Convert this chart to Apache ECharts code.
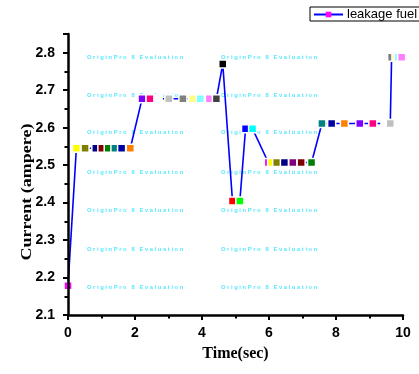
<!DOCTYPE html>
<html>
<head>
<meta charset="utf-8">
<script src="https://cdn.jsdelivr.net/npm/echarts@6/dist/echarts.min.js"></script>
<style>html,body{margin:0;padding:0;background:#fff;}#c{width:419px;height:374px;}</style>
</head>
<body>
<div id="c"></div>
<script>
// Data
var times = [0, 0.25, 0.51, 0.83, 1.01, 1.20, 1.40, 1.60, 1.86,
  2.21, 2.45, 2.69, 3.01, 3.43, 3.72, 3.95, 4.22, 4.43,
  4.62, 4.91, 5.13, 5.30, 5.51,
  5.98, 6.08, 6.23, 6.46, 6.71, 6.96, 7.27,
  7.58, 7.87, 8.25, 8.71, 9.10, 9.46, 9.62,
  9.66, 9.79, 9.86, 9.96];
var current = [2.178, 2.545, 2.545, 2.545, 2.545, 2.545, 2.545, 2.545, 2.545,
  2.677, 2.677, 2.677, 2.677, 2.677, 2.677, 2.677, 2.677, 2.677,
  2.770, 2.404, 2.404, 2.597, 2.597,
  2.507, 2.507, 2.507, 2.507, 2.507, 2.507, 2.507,
  2.611, 2.611, 2.611, 2.611, 2.611, 2.611, 2.611,
  2.788, 2.788, 2.788, 2.788];
var seriesName = 'leakage fuel';
var xTicks = [0, 2, 4, 6, 8, 10];
var yTicks = [2.1, 2.2, 2.3, 2.4, 2.5, 2.6, 2.7, 2.8];
var watermark = 'O r i g i n P r o   8   E v a l u a t i o n';

// Marker colour cycle (styles)
var markerColors = ['#FF00FF', '#FFFF00', '#808000', '#000080', '#800000', '#008000', '#008080', '#0000A0', '#FF8000',
  '#8000FF', '#FF0080', '#FFFFFF', '#C0C0C0', '#808080', '#FFFF80', '#80FFFF', '#FF80FF', '#404040',
  '#000000', '#FF0000', '#00FF00', '#0000FF', '#00FFFF',
  '#FF00FF', '#FFFF00', '#808000', '#000080', '#800080', '#800000', '#008000',
  '#008080', '#0000A0', '#FF8000', '#8000FF', '#FF0080', '#FFFFFF', '#C0C0C0',
  '#808080', '#FFFF80', '#80FFFF', '#FF80FF'];

var data = times.map(function (t, i) {
  return { value: [t, current[i]], itemStyle: { color: markerColors[i] } };
});

var wmRows = [58, 96, 133, 173, 211, 250, 288];
var wmCols = [87, 221];
var graphics = [];
wmRows.forEach(function (y) {
  wmCols.forEach(function (x) {
    graphics.push({
      type: 'text', left: x, top: y - 4, z: 0, silent: true,
      style: { text: watermark, fill: '#58e8ff', font: 'bold 5.8px "Liberation Sans", Arial, sans-serif' }
    });
  });
});
graphics.push({
  type: 'text', x: 27, y: 192, rotation: Math.PI / 2, scaleX: 1.2, z: 5,
  style: { text: 'Current (ampere)', fill: '#000', font: 'bold 15px "Liberation Serif", "Times New Roman", serif',
    align: 'center', verticalAlign: 'middle' }
});

var chart = echarts.init(document.getElementById('c'), null, { renderer: 'canvas' });
chart.setOption({
  animation: false,
  backgroundColor: '#fff',
  grid: { left: 68, right: 16, top: 34, bottom: 59, containLabel: false },
  legend: {
    left: 310, top: 7, orient: 'horizontal',
    borderColor: '#000', borderWidth: 1, borderRadius: 0,
    padding: [1, 6, 0, 3], itemWidth: 29, itemHeight: 7, itemGap: 4,
    textStyle: { fontFamily: '"Liberation Sans", Arial, sans-serif', fontSize: 13, color: '#000', padding: [0, 0, 0, -1] },
    data: [{ name: seriesName, itemStyle: { color: '#FF00FF', borderWidth: 0 }, lineStyle: { color: '#0000FF', width: 2 } }]
  },
  xAxis: {
    type: 'value', min: 0, max: 10, interval: 2,
    name: 'Time(sec)', nameLocation: 'middle', nameGap: 31,
    nameTextStyle: { fontFamily: '"Liberation Serif", "Times New Roman", serif', fontWeight: 'bold', fontSize: 16, color: '#000' },
    axisLine: { show: true, onZero: false, lineStyle: { color: '#000', width: 2.5 } },
    axisTick: { show: true, inside: false, length: 5, lineStyle: { color: '#000', width: 2 } },
    minorTick: { show: true, splitNumber: 2, length: 3.5, lineStyle: { color: '#000', width: 2 } },
    axisLabel: { margin: 11, fontFamily: '"Liberation Sans", Arial, sans-serif', fontWeight: 'bold', fontSize: 14, color: '#000',
      formatter: function (v) { return xTicks.indexOf(v) >= 0 ? String(v) : ''; } },
    splitLine: { show: false }
  },
  yAxis: {
    type: 'value', min: 2.1, max: 2.85, interval: 0.1, z: 3,
    axisLine: { show: true, onZero: false, lineStyle: { color: '#000', width: 2.5 } },
    axisTick: { show: true, inside: false, length: 5, lineStyle: { color: '#000', width: 2 } },
    minorTick: { show: true, splitNumber: 2, length: 3.5, lineStyle: { color: '#000', width: 2 } },
    axisLabel: { margin: 13, showMaxLabel: false, fontFamily: '"Liberation Sans", Arial, sans-serif', fontWeight: 'bold', fontSize: 14, color: '#000',
      formatter: function (v) {
        var r = Math.round(v * 10) / 10;
        return (Math.abs(r - v) < 1e-6 && yTicks.indexOf(r) >= 0) ? r.toFixed(1) : '';
      } },
    splitLine: { show: false }
  },
  graphic: graphics,
  series: [{
    name: seriesName, type: 'line', data: data,
    symbol: 'rect', symbolSize: 8, showSymbol: true,
    lineStyle: { color: '#0000FF', width: 1.6 },
    itemStyle: { color: '#FF00FF', borderWidth: 1.5, borderColor: '#ffffff' },
    clip: false, z: 2
  }]
});
</script>
</body>
</html>
